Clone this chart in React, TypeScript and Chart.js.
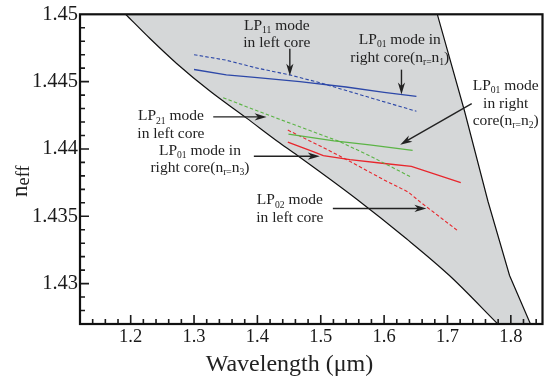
import React, { useEffect, useRef } from 'react';
import { Chart, registerables } from 'chart.js';

Chart.register(...registerables);

// ---------- axis ranges & ticks ----------
const xMin = 1.12;
const xMax = 1.85;
const yMin = 1.427;
const yMax = 1.45;
const xTickValues = [1.2, 1.3, 1.4, 1.5, 1.6, 1.7, 1.8];
const xTickLabels = ['1.2', '1.3', '1.4', '1.5', '1.6', '1.7', '1.8'];
const yTickValues = [1.43, 1.435, 1.44, 1.445, 1.45];
const yTickLabels = ['1.43', '1.435', '1.44', '1.445', '1.45'];
const xMinorStep = 0.02;
const yMinorStep = 0.001;

// ---------- shaded region boundaries ----------
const leftBoundaryX = [1.192, 1.2304, 1.2725, 1.325, 1.3829, 1.4354, 1.467, 1.5564, 1.6353, 1.7031, 1.7795];
const leftBoundaryY = [1.45, 1.4482, 1.44635, 1.4443, 1.44229, 1.44044, 1.43939, 1.43629, 1.43333, 1.4306, 1.427];
const rightBoundaryX = [1.684, 1.727, 1.764, 1.798, 1.831];
const rightBoundaryY = [1.45, 1.4428, 1.4361, 1.4306, 1.427];

// ---------- mode curves ----------
// LP11 mode in left core (blue dashed)
const lp11LeftX = [1.3, 1.35, 1.4, 1.451, 1.5, 1.55, 1.593, 1.651];
const lp11LeftY = [1.447, 1.4466, 1.446, 1.4455, 1.4449, 1.4442, 1.4436, 1.4428];
// LP01 mode in right core (nr=n1) (blue solid)
const lp01N1X = [1.3, 1.351, 1.4, 1.467, 1.54, 1.6, 1.651];
const lp01N1Y = [1.4459, 1.4455, 1.4453, 1.445, 1.4446, 1.4442, 1.4439];
// LP21 mode in left core (green dashed)
const lp21LeftX = [1.346, 1.435, 1.527, 1.577, 1.643];
const lp21LeftY = [1.4438, 1.4422, 1.4406, 1.4395, 1.4379];
// LP01 mode in right core (nr=n2) (green solid)
const lp01N2X = [1.449, 1.521, 1.577, 1.645];
const lp01N2Y = [1.4411, 1.4406, 1.4403, 1.4399];
// LP02 mode in left core (red dashed)
const lp02LeftX = [1.448, 1.5, 1.541, 1.6, 1.638, 1.656, 1.717];
const lp02LeftY = [1.4414, 1.4402, 1.4392, 1.4377, 1.4368, 1.4361, 1.4339];
// LP01 mode in right core (nr=n3) (red solid)
const lp01N3X = [1.448, 1.488, 1.504, 1.546, 1.604, 1.643, 1.721];
const lp01N3Y = [1.4405, 1.4398, 1.4395, 1.4392, 1.4389, 1.4387, 1.4375];

// ---------- annotations (data coordinates) ----------
type Annot = { lines: string[]; x: number; y: number; gap: number; arrow: [number, number, number, number] };
const annotations: Annot[] = [
  { lines: ['LP_{11} mode', 'in left core'], x: 1.4307, y: 1.44884, gap: 17, arrow: [1.4512, 1.44744, 1.4512, 1.44544] },
  { lines: ['LP_{01} mode in', 'right core(n_{r=}n_{1})'], x: 1.6247, y: 1.44781, gap: 18, arrow: [1.6274, 1.44589, 1.6274, 1.44404] },
  { lines: ['LP_{01} mode', 'in right', 'core(n_{r=}n_{2})'], x: 1.7919, y: 1.44437, gap: 17.5, arrow: [1.7383, 1.44337, 1.6254, 1.44032] },
  { lines: ['LP_{21} mode', 'in left core'], x: 1.2635, y: 1.44212, gap: 17.5, arrow: [1.3303, 1.44238, 1.4145, 1.44238] },
  { lines: ['LP_{01} mode in', 'right core(n_{r=}n_{3})'], x: 1.3093, y: 1.43953, gap: 17, arrow: [1.3944, 1.43946, 1.4985, 1.43946] },
  { lines: ['LP_{02} mode', 'in left core'], x: 1.4512, y: 1.43588, gap: 17.5, arrow: [1.5191, 1.43558, 1.6668, 1.43558] },
];

const SERIF = '"Liberation Serif", "Times New Roman", serif';
const BLUE = '#2d48a8';
const GREEN = '#5cb446';
const RED = '#e8262c';
const SHADE = '#d5d7d8';
const INK = '#1a1a1a';

const pts = (xs: number[], ys: number[]) => xs.map((x, i) => ({ x, y: ys[i] }));

function parseRich(text: string) {
  const segs: { t: string; sub: boolean }[] = [];
  const re = /_\{([^}]*)\}/g;
  let last = 0;
  let m: RegExpExecArray | null;
  while ((m = re.exec(text))) {
    if (m.index > last) segs.push({ t: text.slice(last, m.index), sub: false });
    segs.push({ t: m[1], sub: true });
    last = m.index + m[0].length;
  }
  if (last < text.length) segs.push({ t: text.slice(last), sub: false });
  return segs;
}

function drawRich(
  ctx: CanvasRenderingContext2D,
  text: string,
  x: number,
  y: number,
  size: number,
  align: 'center' | 'left',
  subScale = 0.62,
  subOffset = 0.2
) {
  const segs = parseRich(text);
  const mainFont = `${size}px ${SERIF}`;
  const subFont = `${size * subScale}px ${SERIF}`;
  let total = 0;
  const widths = segs.map((s) => {
    ctx.font = s.sub ? subFont : mainFont;
    const w = ctx.measureText(s.t).width;
    total += w;
    return w;
  });
  let cx = align === 'center' ? x - total / 2 : x;
  ctx.textAlign = 'left';
  ctx.textBaseline = 'alphabetic';
  segs.forEach((s, i) => {
    ctx.font = s.sub ? subFont : mainFont;
    ctx.fillText(s.t, cx, s.sub ? y + size * subOffset : y);
    cx += widths[i];
  });
}

function drawArrow(ctx: CanvasRenderingContext2D, x1: number, y1: number, x2: number, y2: number) {
  const ang = Math.atan2(y2 - y1, x2 - x1);
  const len = 12;
  const hw = 3.6;
  const c = Math.cos(ang);
  const s = Math.sin(ang);
  const bx = x2 - c * len;
  const by = y2 - s * len;
  ctx.beginPath();
  ctx.moveTo(x1, y1);
  ctx.lineTo(x2 - c * len * 0.7, y2 - s * len * 0.7);
  ctx.lineWidth = 1.4;
  ctx.stroke();
  const nx = -s;
  const ny = c;
  ctx.beginPath();
  ctx.moveTo(x2, y2);
  ctx.lineTo(bx + nx * hw, by + ny * hw);
  ctx.lineTo(x2 - c * len * 0.72, y2 - s * len * 0.72);
  ctx.lineTo(bx - nx * hw, by - ny * hw);
  ctx.closePath();
  ctx.fill();
}

const LEFT_IDX = 6;
const RIGHT_IDX = 7;

function tracePoints(ctx: CanvasRenderingContext2D, points: any[], reverse: boolean, first: boolean) {
  const list = reverse ? [...points].reverse() : points;
  list.forEach((p: any, i: number) => {
    if (i === 0) {
      if (first) ctx.moveTo(p.x, p.y);
      else ctx.lineTo(p.x, p.y);
      return;
    }
    const prev = list[i - 1];
    const a = reverse ? { x: prev.cp1x, y: prev.cp1y } : { x: prev.cp2x, y: prev.cp2y };
    const b = reverse ? { x: p.cp2x, y: p.cp2y } : { x: p.cp1x, y: p.cp1y };
    if (a.x === undefined || b.x === undefined) ctx.lineTo(p.x, p.y);
    else ctx.bezierCurveTo(a.x, a.y, b.x, b.y, p.x, p.y);
  });
}

const shadePlugin = {
  id: 'shade',
  beforeDatasetsDraw(chart: any) {
    const { ctx, chartArea } = chart;
    const leftPts = chart.getDatasetMeta(LEFT_IDX).data;
    const rightPts = chart.getDatasetMeta(RIGHT_IDX).data;
    ctx.save();
    ctx.beginPath();
    ctx.rect(chartArea.left, chartArea.top, chartArea.right - chartArea.left, chartArea.bottom - chartArea.top);
    ctx.clip();
    ctx.beginPath();
    tracePoints(ctx, leftPts, false, true);
    tracePoints(ctx, rightPts, true, false);
    ctx.closePath();
    ctx.fillStyle = SHADE;
    ctx.fill();
    ctx.restore();
  },
};

const decorPlugin = {
  id: 'decor',
  afterDatasetsDraw(chart: any) {
    const { ctx, chartArea } = chart;
    const xs = chart.scales.x;
    const ys = chart.scales.y;
    const { left, right, top, bottom } = chartArea;
    ctx.save();
    // annotations
    ctx.fillStyle = '#222';
    ctx.strokeStyle = '#222';
    annotations.forEach((a) => {
      const px = xs.getPixelForValue(a.x);
      const py = ys.getPixelForValue(a.y);
      a.lines.forEach((ln, i) => drawRich(ctx, ln, px, py + i * a.gap, 15.5, 'center'));
      drawArrow(
        ctx,
        xs.getPixelForValue(a.arrow[0]),
        ys.getPixelForValue(a.arrow[1]),
        xs.getPixelForValue(a.arrow[2]),
        ys.getPixelForValue(a.arrow[3])
      );
    });
    // ticks (inside)
    ctx.strokeStyle = INK;
    ctx.lineWidth = 1.6;
    const isMajor = (v: number, arr: number[]) => arr.some((t) => Math.abs(t - v) < 1e-7);
    ctx.beginPath();
    for (let i = 1; ; i++) {
      const v = Math.round((xMin + i * xMinorStep) * 1e6) / 1e6;
      if (v >= xMax) break;
      const p = xs.getPixelForValue(v);
      const l = isMajor(v, xTickValues) ? 9 : 5;
      ctx.moveTo(p, bottom);
      ctx.lineTo(p, bottom - l);
    }
    for (let i = 1; ; i++) {
      const v = Math.round((yMin + i * yMinorStep) * 1e6) / 1e6;
      if (v >= yMax - 1e-9) break;
      const p = ys.getPixelForValue(v);
      const l = isMajor(v, yTickValues) ? 9 : 5;
      ctx.moveTo(left, p);
      ctx.lineTo(left + l, p);
    }
    ctx.stroke();
    // frame
    ctx.lineWidth = 2.2;
    ctx.strokeStyle = '#111';
    ctx.strokeRect(left, top, right - left, bottom - top);
    // axis titles
    ctx.fillStyle = '#222';
    drawRich(ctx, 'Wavelength (μm)', left + (right - left) * 0.453, 371, 24, 'center');
    ctx.save();
    ctx.translate(26.5, 197);
    ctx.rotate(-Math.PI / 2);
    drawRich(ctx, 'n_{eff}', 0, 0, 23, 'left', 0.8, 0.09);
    ctx.restore();
    ctx.restore();
  },
};

export default function App() {
  const ref = useRef<HTMLCanvasElement>(null);
  useEffect(() => {
    const canvas = ref.current;
    if (!canvas) return;
    const line = (data: any, color: string, dashed: boolean, width = 1.3, smooth = false) => ({
      data,
      borderColor: color,
      backgroundColor: color,
      borderWidth: width,
      borderDash: dashed ? [3.5, 2.2] : [],
      showLine: true,
      pointRadius: 0,
      pointHoverRadius: 0,
      fill: false,
      tension: 0,
      cubicInterpolationMode: smooth ? 'monotone' : 'default',
    });
    const chart = new Chart(canvas, {
      type: 'scatter',
      data: {
        datasets: [
          line(pts(lp11LeftX, lp11LeftY), BLUE, true, 1.1),
          line(pts(lp01N1X, lp01N1Y), BLUE, false),
          line(pts(lp21LeftX, lp21LeftY), GREEN, true, 1.1),
          line(pts(lp01N2X, lp01N2Y), GREEN, false),
          line(pts(lp02LeftX, lp02LeftY), RED, true, 1.1),
          line(pts(lp01N3X, lp01N3Y), RED, false),
          line(pts(leftBoundaryX, leftBoundaryY), '#111', false, 1.2, true),
          line(pts(rightBoundaryX, rightBoundaryY), '#111', false, 1.2),
        ],
      },
      options: {
        responsive: false,
        animation: false,
        events: [],
        layout: { padding: { left: 0, right: 3.5, top: 12.3, bottom: 0 } },
        plugins: { legend: { display: false }, tooltip: { enabled: false } },
        scales: {
          x: {
            type: 'linear',
            min: xMin,
            max: xMax,
            grid: { display: false, drawTicks: false },
            border: { display: false },
            afterBuildTicks: (s: any) => {
              s.ticks = xTickValues.map((v) => ({ value: v }));
            },
            afterFit: (s: any) => {
              s.height = 57;
            },
            ticks: {
              autoSkip: false,
              maxRotation: 0,
              padding: 2,
              color: INK,
              font: { family: SERIF, size: 18.5 },
              callback: (_v: any, i: number) => xTickLabels[i],
            },
          },
          y: {
            type: 'linear',
            min: yMin,
            max: yMax,
            grid: { display: false, drawTicks: false },
            border: { display: false },
            afterBuildTicks: (s: any) => {
              s.ticks = yTickValues.map((v) => ({ value: v }));
            },
            afterFit: (s: any) => {
              s.width = 80;
            },
            ticks: {
              autoSkip: false,
              padding: 2,
              color: INK,
              font: { family: SERIF, size: 20.5 },
              callback: (_v: any, i: number) => yTickLabels[i],
            },
          },
        },
      },
      plugins: [shadePlugin, decorPlugin],
    } as any);
    return () => chart.destroy();
  }, []);
  return (
    <div style={{ position: 'absolute', left: 0, top: 0, width: 546, height: 381, background: '#fff' }}>
      <canvas ref={ref} width={546} height={381} style={{ display: 'block' }} />
    </div>
  );
}
